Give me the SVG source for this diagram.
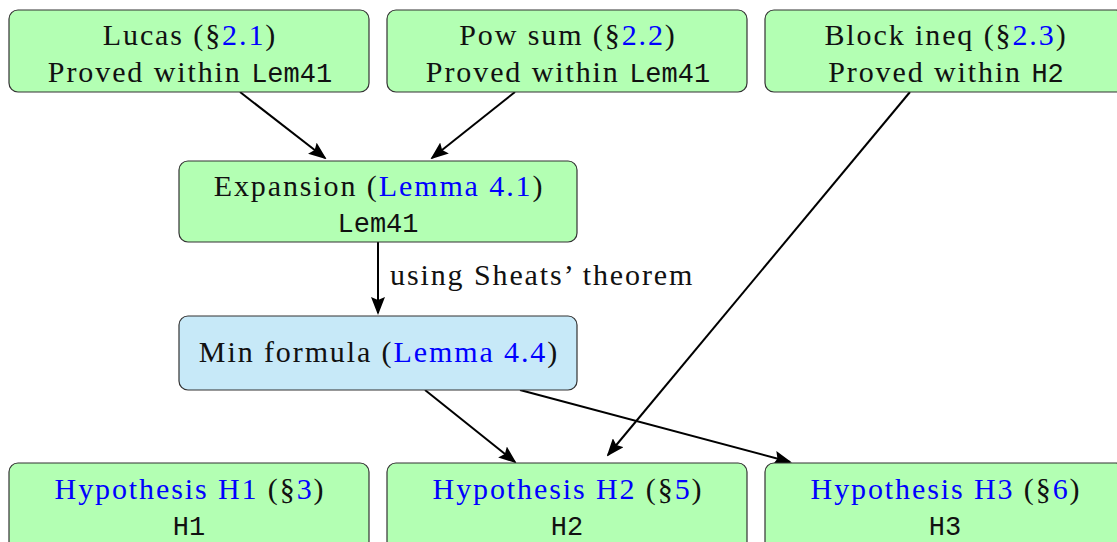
<svg xmlns="http://www.w3.org/2000/svg" width="1117" height="542" viewBox="0 0 1117 542">
<defs>
<style>
.box{fill:#b3ffb3;stroke:#333;stroke-width:1.2}
.box2{fill:#c7e9f8;stroke:#333;stroke-width:1.2}
text{font-family:"Liberation Serif","DejaVu Serif",serif;font-size:30px;letter-spacing:1.9px;fill:#111;text-anchor:middle}
.tt{font-family:"Liberation Mono","DejaVu Sans Mono",monospace;font-size:27px;letter-spacing:0}
.b{fill:#0000ff}
.edge{stroke:#000;stroke-width:2;fill:none;marker-end:url(#ah)}
</style>
<marker id="ah" viewBox="0 0 18 14" refX="16" refY="7" markerWidth="18" markerHeight="14" markerUnits="userSpaceOnUse" orient="auto"><path d="M0,0 L18,7 L0,14 L3,7 z" fill="#000"/></marker>
</defs>
<rect width="1117" height="542" fill="#fff"/>
<g id="connectors">
<line class="edge" x1="240" y1="92" x2="325" y2="158"/>
<line class="edge" x1="515" y1="92" x2="432" y2="158"/>
<line class="edge" x1="910" y1="92" x2="608" y2="455"/>
<line class="edge" x1="378" y1="242" x2="378" y2="313"/>
<line class="edge" x1="425" y1="390" x2="515" y2="462"/>
<line class="edge" x1="520" y1="390" x2="790" y2="462"/>
<text x="390" y="285" style="text-anchor:start">using Sheats’ theorem</text>
</g>
<g id="lucas">
<rect class="box" x="9" y="10" width="360" height="82" rx="9"/>
<text x="190" y="45">Lucas (§<tspan class="b">2.1</tspan>)</text>
<text x="190" y="82">Proved within <tspan class="tt">Lem41</tspan></text>
</g>
<g id="powsum">
<rect class="box" x="387" y="10" width="360" height="82" rx="9"/>
<text x="568" y="45">Pow sum (§<tspan class="b">2.2</tspan>)</text>
<text x="568" y="82">Proved within <tspan class="tt">Lem41</tspan></text>
</g>
<g id="blockineq">
<rect class="box" x="765" y="10" width="360" height="82" rx="9"/>
<text x="946" y="45">Block ineq (§<tspan class="b">2.3</tspan>)</text>
<text x="946" y="82">Proved within <tspan class="tt">H2</tspan></text>
</g>
<g id="expansion">
<rect class="box" x="179" y="161" width="398" height="81" rx="9"/>
<text x="379" y="196">Expansion (<tspan class="b">Lemma 4.1</tspan>)</text>
<text x="378" y="232" class="tt">Lem41</text>
</g>
<g id="minformula">
<rect class="box2" x="179" y="316" width="398" height="74" rx="9"/>
<text x="379" y="362">Min formula (<tspan class="b">Lemma 4.4</tspan>)</text>
</g>
<g id="h1">
<rect class="box" x="9" y="463" width="360" height="90" rx="9"/>
<text x="190" y="499"><tspan class="b">Hypothesis H1</tspan> (§<tspan class="b">3</tspan>)</text>
<text x="189" y="535" class="tt">H1</text>
</g>
<g id="h2">
<rect class="box" x="387" y="463" width="360" height="90" rx="9"/>
<text x="568" y="499"><tspan class="b">Hypothesis H2</tspan> (§<tspan class="b">5</tspan>)</text>
<text x="567" y="535" class="tt">H2</text>
</g>
<g id="h3">
<rect class="box" x="765" y="463" width="360" height="90" rx="9"/>
<text x="946" y="499"><tspan class="b">Hypothesis H3</tspan> (§<tspan class="b">6</tspan>)</text>
<text x="945" y="535" class="tt">H3</text>
</g>
</svg>
